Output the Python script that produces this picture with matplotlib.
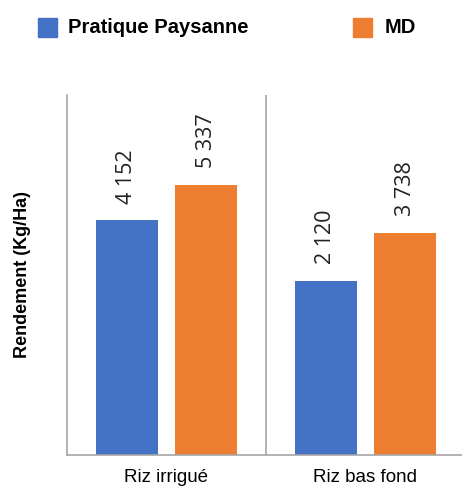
import numpy as np
import matplotlib.pyplot as plt
from matplotlib.patches import Rectangle

categories = ["Riz irrigué", "Riz bas fond"]
series_names = ["Pratique Paysanne", "MD"]
pratique = [4152, 2120]
md = [5337, 3738]
colors = ["#4472C4", "#ED7D31"]

W, H = 462, 495
fig = plt.figure(figsize=(W / 100, H / 100), dpi=100)
ax = fig.add_axes([67 / W, 40 / H, 395 / W, 360 / H])

# value axis does not start at zero in the original (hidden axis)
base = -3700
x = np.arange(len(categories))
width = 0.31
offset = 0.2

for vals, off, col in [(pratique, -offset, colors[0]), (md, offset, colors[1])]:
    vals = np.array(vals)
    bars = ax.bar(x + off, vals - base, width, bottom=base, color=col)
    for b, v in zip(bars, vals):
        ax.annotate(f"{v:,}".replace(",", " "), (b.get_x() + b.get_width() / 2, v),
                    xytext=(0, 12), textcoords="offset points",
                    rotation=90, ha="center", va="bottom",
                    fontsize=15.5, color="#222222", family="Open Sans")

ax.set_xlim(-0.5, 1.485)
ax.set_ylim(base, 8350)
ax.axvline(0.5, color="#a6a6a6", lw=1.2)
ax.set_yticks([])
ax.set_xticks(x)
ax.set_xticklabels(categories, fontsize=13.5, family="Liberation Sans")
ax.tick_params(axis="x", length=0, pad=10)
for s in ["top", "right"]:
    ax.spines[s].set_visible(False)
for s in ["left", "bottom"]:
    ax.spines[s].set_color("#a6a6a6")
    ax.spines[s].set_linewidth(1.2)

ax.set_ylabel("Rendement (Kg/Ha)", fontsize=13, fontweight="bold",
              family="Liberation Sans", labelpad=26)

# legend drawn at the top, as in the original
legend_pos = [(38, 68), (353, 385)]
for (sx, tx), name, col in zip(legend_pos, series_names, colors):
    fig.add_artist(Rectangle((sx / W, 1 - 37 / H), 19 / W, 19 / H,
                             color=col, transform=fig.transFigure))
    fig.text(tx / W, 1 - 27.5 / H, name, ha="left", va="center",
             fontsize=14.5, fontweight="bold", family="Liberation Sans")

fig.savefig("out.png", dpi=100)
